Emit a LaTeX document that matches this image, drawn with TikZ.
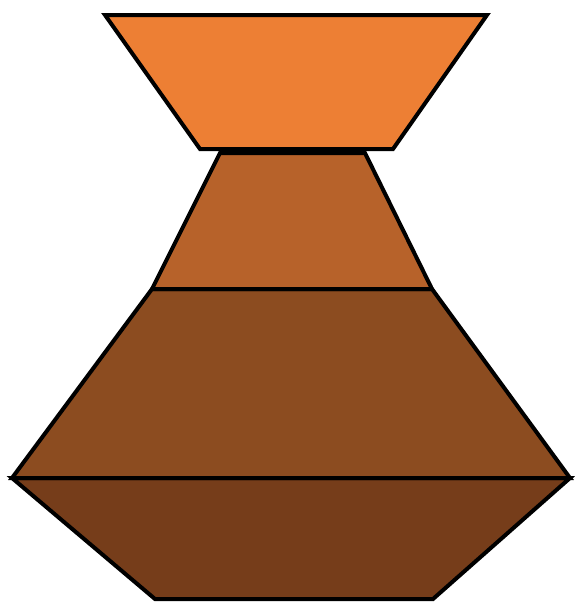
\documentclass[tikz,border=0pt]{standalone}
\usepackage{tikz}

\definecolor{layerA}{HTML}{ED7F34}
\definecolor{layerB}{HTML}{B7622A}
\definecolor{layerC}{HTML}{8C4C20}
\definecolor{layerD}{HTML}{763D1A}

\begin{document}
\begin{tikzpicture}[x=1pt, y=-1pt, layer/.style={draw=black, line width=4pt, line join=miter}]
            \useasboundingbox (0,0) rectangle (574,603);
            \draw[layer, fill=layerD] (12,478) -- (570,478) -- (433,599) -- (155,599) -- cycle;
            \draw[layer, fill=layerC] (152,289) -- (432,289) -- (570,478) -- (12,478) -- cycle;
            \draw[layer, fill=layerB] (220,153) -- (365,153) -- (432,289) -- (152,289) -- cycle;
            \draw[layer, fill=layerA] (105,15) -- (487,15) -- (393,149) -- (200,149) -- cycle;
        \end{tikzpicture}
\end{document}
